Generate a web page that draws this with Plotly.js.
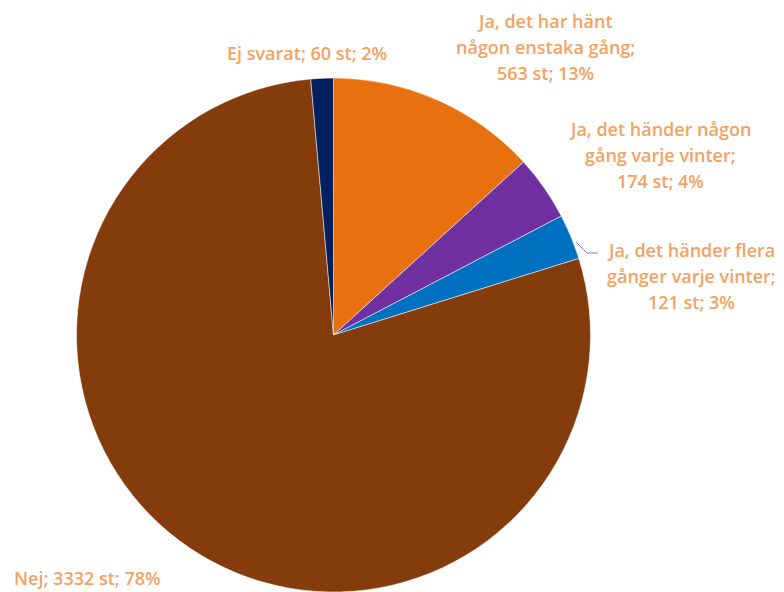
<!DOCTYPE html>
<html>
<head>
<meta charset="utf-8">
<script src="https://cdn.plot.ly/plotly-3.0.1.min.js"></script>
<style>html,body{margin:0;padding:0;background:#fff;}#chart{width:784px;height:592px;}</style>
</head>
<body>
<div id="chart"></div>
<script>
var categories = [
  "Ja, det har hänt någon enstaka gång",
  "Ja, det händer någon gång varje vinter",
  "Ja, det händer flera gånger varje vinter",
  "Nej",
  "Ej svarat"
];
var counts = [563, 174, 121, 3332, 60];
var percentLabels = ["13%", "4%", "3%", "78%", "2%"];
var labelLines = [
  ["Ja, det har hänt", "någon enstaka gång;", "563 st; 13%"],
  ["Ja, det händer någon", "gång varje vinter;", "174 st; 4%"],
  ["Ja, det händer flera", "gånger varje vinter;", "121 st; 3%"],
  ["Nej; 3332 st; 78%"],
  ["Ej svarat; 60 st; 2%"]
];
var sliceColors = ["#E8700E", "#7030A0", "#0070C0", "#843C0C", "#002060"];

var W = 784, H = 592;
function px(x){ return x / W; }
function py(y){ return 1 - y / H; }

var labelPos = [
  {x: 545, y: 47, xanchor: "center"},
  {x: 660, y: 155, xanchor: "center"},
  {x: 691, y: 276, xanchor: "center"},
  {x: 12, y: 578, xanchor: "left"},
  {x: 307, y: 53, xanchor: "center"}
];
var lineGap = 26;

var annotations = [];
labelLines.forEach(function(lines, i){
  var n = lines.length;
  lines.forEach(function(t, j){
    annotations.push({
      text: t,
      x: px(labelPos[i].x),
      y: py(labelPos[i].y + (j - (n - 1) / 2) * lineGap),
      xref: "paper", yref: "paper", xanchor: labelPos[i].xanchor, yanchor: "middle",
      showarrow: false, align: "center",
      font: {family: "'Open Sans', sans-serif", size: 18, color: "#F2A263", weight: 600}
    });
  });
});

var data = [{
  type: "pie",
  labels: categories,
  values: counts,
  sort: false,
  direction: "clockwise",
  rotation: 0,
  textinfo: "none",
  hoverinfo: "none",
  marker: {colors: sliceColors, line: {color: "#ffffff", width: 0.5}},
  domain: {x: [76/784, 591/784], y: [0, 1 - 78/592]},
  showlegend: false
}];

var layout = {
  width: W, height: H,
  margin: {l: 0, r: 0, t: 0, b: 0},
  paper_bgcolor: "#ffffff",
  showlegend: false,
  annotations: annotations,
  shapes: [{
    type: "path", xref: "paper", yref: "paper",
    path: "M " + px(576) + "," + py(242) + " L " + px(587) + "," + py(253) + " L " + px(598) + "," + py(253),
    line: {color: "#7F8FA6", width: 1}
  }]
};

Plotly.newPlot("chart", data, layout, {displayModeBar: false, staticPlot: true});
</script>
</body>
</html>
